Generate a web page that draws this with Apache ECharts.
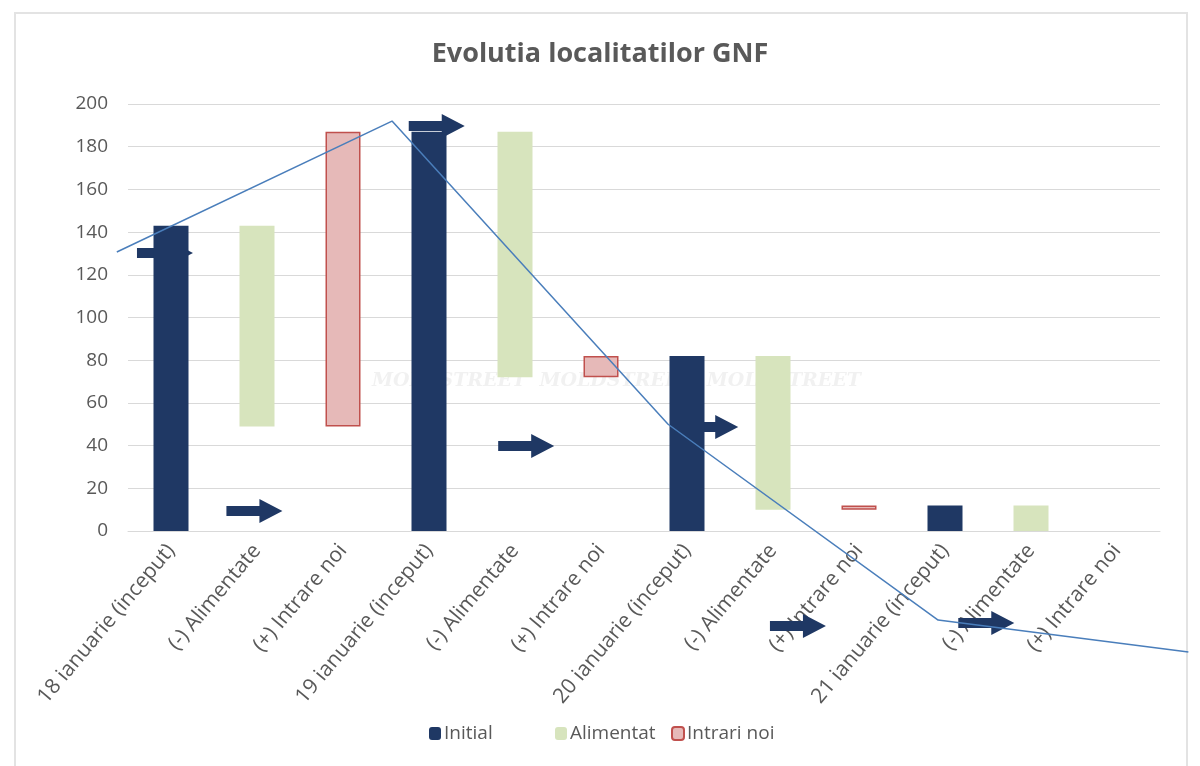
<!DOCTYPE html>
<html>
<head>
<meta charset="utf-8">
<script src="https://cdn.jsdelivr.net/npm/echarts@6/dist/echarts.min.js"></script>
<style>
  html, body { margin: 0; padding: 0; background: #fff; }
  #main { width: 1200px; height: 766px; }
</style>
</head>
<body>
<div id="main"></div>
<script>
// ---- date ----
const categorii = [
    '18 ianuarie (inceput)', '(-) Alimentate', '(+) Intrare noi',
    '19 ianuarie (inceput)', '(-) Alimentate', '(+) Intrare noi',
    '20 ianuarie (inceput)', '(-) Alimentate', '(+) Intrare noi',
    '21 ianuarie (inceput)', '(-) Alimentate', '(+) Intrare noi'
];
// baza invizibila a cascadei
const baza       = [0, 49, 49, 0, 72, 72, 0, 10, 10, 0, 0, 0];
const initial    = [143, '-', '-', 187, '-', '-', 82, '-', '-', 12, '-', '-'];
const alimentat  = ['-', 94, '-', '-', 115, '-', '-', 72, '-', '-', 12, '-'];
const intrariNoi = ['-', '-', 138, '-', '-', 10, '-', '-', 2, '-', '-', '-'];
const yTicks = [0, 20, 40, 60, 80, 100, 120, 140, 160, 180, 200];

// linia desenata peste grafic (index categorie, valoare)
const linieTrend = [[-0.63, 130.7], [2.57, 192], [5.78, 50], [8.92, -41.7], [11.83, -56.7]];
// sagetile (index categorie, valoare)
const sageti = [[-0.07, 130.2], [0.97, 9.4], [3.09, 189.7], [4.13, 39.8], [6.27, 48.7], [7.29, -44.5], [9.48, -43.1]];

const GRI = '#595959';
const FONT = '"Open Sans", Lato, sans-serif';
const SAGEATA = 'path://M0,7 L33,7 L33,0 L56,12 L33,24 L33,17 L0,17 Z';

// grila principala: x 128..1160, fiecare categorie 86px
const G_LEFT = 128, G_RIGHT = 40, G_TOP = 104, G_BOTTOM = 235, PAS = 86;

const chart = echarts.init(document.getElementById('main'));

const option = {
    animation: false,
    backgroundColor: '#ffffff',
    title: {
        text: 'Evolutia localitatilor GNF',
        left: 'center',
        top: 36,
        textStyle: { fontFamily: FONT, fontSize: 27, fontWeight: 'bold', color: GRI }
    },
    legend: [
        { data: ['Initial'], left: 424, top: 719 },
        { data: ['Alimentat'], left: 550, top: 719 },
        { data: ['Intrari noi'], left: 666, top: 719 }
    ].map(l => ({
        ...l,
        itemWidth: 12, itemHeight: 13, itemGap: 0,
        textStyle: { fontFamily: FONT, fontSize: 19, color: GRI, padding: [0, 0, 0, -2] }
    })),
    grid: [
        { left: G_LEFT, right: G_RIGHT, top: G_TOP, bottom: G_BOTTOM },
        // grila pe toata latimea pentru adnotari (aceeasi scara)
        { left: 0, right: 0, top: G_TOP, bottom: G_BOTTOM }
    ],
    xAxis: [
        {
            type: 'category',
            data: categorii,
            gridIndex: 0,
            axisTick: { show: false },
            axisLine: { lineStyle: { color: '#d9d9d9' } },
            axisLabel: {
                interval: 0, rotate: 50, margin: 16,
                fontFamily: FONT, fontSize: 21, color: GRI
            }
        },
        {
            type: 'value', gridIndex: 1, show: false,
            min: -0.5 - G_LEFT / PAS,
            max: -0.5 + (1200 - G_LEFT) / PAS
        }
    ],
    yAxis: [
        {
            type: 'value',
            gridIndex: 0,
            min: yTicks[0], max: yTicks[yTicks.length - 1], interval: 20,
            axisLine: { show: false },
            axisTick: { show: false },
            splitLine: { lineStyle: { color: '#d9d9d9', width: 1 } },
            axisLabel: { fontFamily: FONT, fontSize: 19, color: GRI, margin: 20 }
        },
        {
            type: 'value', gridIndex: 1, show: false,
            min: yTicks[0], max: yTicks[yTicks.length - 1]
        }
    ],
    graphic: [
        {
            type: 'rect', z: 0, silent: true,
            shape: { x: 15, y: 13, width: 1172, height: 780 },
            style: { fill: 'none', stroke: '#e3e3e3', lineWidth: 2 }
        },
        {
            type: 'text',
            left: 372, top: 372, z: 0,
            style: {
                text: 'MOLDSTREET  MOLDSTREET  MOLDSTREET',
                font: 'italic bold 19px "DejaVu Serif", serif',
                fill: 'rgba(190,190,190,0.22)'
            }
        }
    ],
    series: [
        {
            name: 'baza', type: 'bar', stack: 'total', data: baza,
            barWidth: 35, silent: true,
            itemStyle: { color: 'transparent' }, z: 2
        },
        {
            name: 'Initial', type: 'bar', stack: 'total', data: initial,
            barWidth: 35, itemStyle: { color: '#1f3864' }, z: 2
        },
        {
            name: 'Alimentat', type: 'bar', stack: 'total', data: alimentat,
            barWidth: 35, itemStyle: { color: '#d7e4bd' }, z: 2
        },
        {
            name: 'Intrari noi', type: 'bar', stack: 'total', data: intrariNoi,
            barWidth: 35,
            itemStyle: { color: '#e6b9b8', borderColor: '#c0504d', borderWidth: 1.5 }, z: 2
        },
        {
            name: 'sageti', type: 'scatter', xAxisIndex: 1, yAxisIndex: 1, data: sageti,
            symbol: SAGEATA, symbolSize: [56, 24], clip: false, silent: true,
            itemStyle: { color: '#1f3864', opacity: 1 }, z: 1
        },
        {
            name: 'linie', type: 'line', xAxisIndex: 1, yAxisIndex: 1, data: linieTrend,
            symbol: 'none', clip: false, silent: true,
            lineStyle: { color: '#4a7ebb', width: 1.5 }, z: 3
        }
    ]
};

chart.setOption(option);
window.addEventListener('resize', () => chart.resize());
</script>
</body>
</html>
